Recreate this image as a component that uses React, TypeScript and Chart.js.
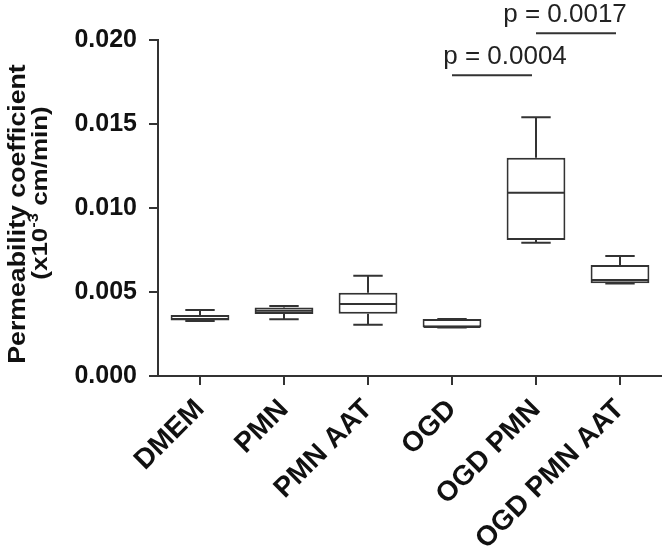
import React, { useEffect, useRef } from 'react';
import { Chart, registerables } from 'chart.js';

Chart.register(...registerables);

const FONT = "'Liberation Sans', Arial, Helvetica, sans-serif";

// Data (permeability coefficient)
const categories = ['DMEM', 'PMN', 'PMN AAT', 'OGD', 'OGD PMN', 'OGD PMN AAT'];
const whiskerMin = [0.00327, 0.00338, 0.00305, 0.00288, 0.00793, 0.0055];
const q1 = [0.0033, 0.00369, 0.00371, 0.0029, 0.0081, 0.00552];
const median = [0.00339, 0.00389, 0.00429, 0.00292, 0.01091, 0.00571];
const q3 = [0.00363, 0.00407, 0.00496, 0.00339, 0.01299, 0.00661];
const whiskerMax = [0.00393, 0.00417, 0.00597, 0.0034, 0.0154, 0.00714];
const yTicks = [0, 0.005, 0.01, 0.015, 0.02];

// significance brackets
const compFrom = [3, 4];
const compTo = [4, 5];
const compLevel = [0.0179, 0.0204];
const compLabel = ['p = 0.0004', 'p = 0.0017'];

const yTitleLine1 = 'Permeability coefficient';
const yTitleLine2a = '(x10';
const yTitleLine2sup = '-3';
const yTitleLine2b = ' cm/min)';

const INK = '#111';
const LINE = '#333';
// horizontal nudges (px) of the p-value labels relative to their bracket centres
const LABEL_NUDGE = [13, -11];

const boxPlugin = {
  id: 'boxWhiskers',
  afterDatasetsDraw(chart: any) {
    const ctx = chart.ctx;
    const xs = chart.scales.x;
    const ys = chart.scales.y;
    const meta = chart.getDatasetMeta(0);
    ctx.save();
    ctx.strokeStyle = LINE;
    ctx.lineWidth = 2;
    categories.forEach((_, i) => {
      const x = xs.getPixelForValue(i);
      const bw = meta.data[i] ? meta.data[i].width : 58;
      const cap = bw / 4;
      const yMax = ys.getPixelForValue(whiskerMax[i]);
      const yQ3 = ys.getPixelForValue(q3[i]);
      const yQ1 = ys.getPixelForValue(q1[i]);
      const yMin = ys.getPixelForValue(whiskerMin[i]);
      const yMed = ys.getPixelForValue(median[i]);
      ctx.beginPath();
      ctx.moveTo(x, yQ3);
      ctx.lineTo(x, yMax);
      ctx.moveTo(x - cap, yMax);
      ctx.lineTo(x + cap, yMax);
      ctx.moveTo(x, yQ1);
      ctx.lineTo(x, yMin);
      ctx.moveTo(x - cap, yMin);
      ctx.lineTo(x + cap, yMin);
      ctx.moveTo(x - bw / 2 + 1, yMed);
      ctx.lineTo(x + bw / 2 - 1, yMed);
      ctx.stroke();
    });
    // p-value brackets
    ctx.fillStyle = '#222';
    ctx.font = `26px ${FONT}`;
    ctx.textAlign = 'center';
    ctx.textBaseline = 'alphabetic';
    compFrom.forEach((f, k) => {
      const x1 = xs.getPixelForValue(f);
      const x2 = xs.getPixelForValue(compTo[k]) - 4;
      const y = ys.getPixelForValue(compLevel[k]);
      ctx.beginPath();
      ctx.moveTo(x1, y);
      ctx.lineTo(x2, y);
      ctx.stroke();
      ctx.fillText(compLabel[k], (x1 + x2) / 2 + LABEL_NUDGE[k], y - 11);
    });
    ctx.restore();
  },
};

const titlePlugin = {
  id: 'yTitle',
  afterDraw(chart: any) {
    const ctx = chart.ctx;
    ctx.save();
    ctx.fillStyle = INK;
    ctx.textBaseline = 'alphabetic';
    ctx.translate(25, 214);
    ctx.rotate(-Math.PI / 2);
    ctx.scale(1.16, 1);
    ctx.font = `bold 23px ${FONT}`;
    ctx.textAlign = 'center';
    ctx.fillText(yTitleLine1, 0, 0);
    ctx.restore();

    ctx.save();
    ctx.fillStyle = INK;
    ctx.textBaseline = 'alphabetic';
    ctx.translate(47, 193);
    ctx.rotate(-Math.PI / 2);
    ctx.scale(1.18, 1);
    const big = `bold 22px ${FONT}`;
    const small = `bold 14px ${FONT}`;
    ctx.font = big;
    const w1 = ctx.measureText(yTitleLine2a).width;
    const w3 = ctx.measureText(yTitleLine2b).width;
    ctx.font = small;
    const w2 = ctx.measureText(yTitleLine2sup).width;
    let x = -(w1 + w2 + w3) / 2;
    ctx.textAlign = 'left';
    ctx.font = big;
    ctx.fillText(yTitleLine2a, x, 0);
    x += w1;
    ctx.font = small;
    ctx.fillText(yTitleLine2sup, x, -9);
    x += w2;
    ctx.font = big;
    ctx.fillText(yTitleLine2b, x, 0);
    ctx.restore();
  },
};

export default function App() {
  const ref = useRef<HTMLCanvasElement | null>(null);
  useEffect(() => {
    if (!ref.current) return;
    const chart = new Chart(ref.current, {
      type: 'bar',
      data: {
        labels: categories,
        datasets: [
          {
            data: categories.map((_, i) => [q1[i], q3[i]]) as any,
            backgroundColor: '#ffffff',
            borderColor: LINE,
            borderWidth: 2,
            borderSkipped: false,
            barPercentage: 0.7,
            categoryPercentage: 1,
          },
        ],
      },
      options: {
        responsive: false,
        animation: false,
        layout: { padding: { top: 40, right: 0, bottom: 0, left: 0 } },
        plugins: { legend: { display: false }, tooltip: { enabled: false } },
        scales: {
          x: {
            offset: true,
            grid: { offset: false, drawOnChartArea: false, tickLength: 9, color: LINE, lineWidth: 2 },
            border: { color: LINE, width: 2 },
            ticks: {
              minRotation: 45,
              maxRotation: 45,
              autoSkip: false,
              padding: 8,
              color: INK,
              font: { family: FONT, size: 28, weight: 'bold' },
            },
            afterFit: (s: any) => {
              s.height = 175;
            },
          },
          y: {
            min: 0,
            max: 0.02,
            grid: { drawOnChartArea: false, tickLength: 9, color: LINE, lineWidth: 2 },
            border: { color: LINE, width: 2 },
            afterBuildTicks: (s: any) => {
              s.ticks = yTicks.map((v) => ({ value: v }));
            },
            ticks: {
              padding: 12,
              color: INK,
              font: { family: FONT, size: 25, weight: 'bold' },
              callback: (v: any) => Number(v).toFixed(3),
            },
            afterFit: (s: any) => {
              s.width = 158;
            },
          },
        },
      },
      plugins: [boxPlugin, titlePlugin],
    });
    return () => chart.destroy();
  }, []);
  return (
    <div style={{ position: 'fixed', left: 0, top: 0, width: 662, height: 551, background: '#fff' }}>
      <canvas ref={ref} width={662} height={551} style={{ width: 662, height: 551, display: 'block' }} />
    </div>
  );
}
